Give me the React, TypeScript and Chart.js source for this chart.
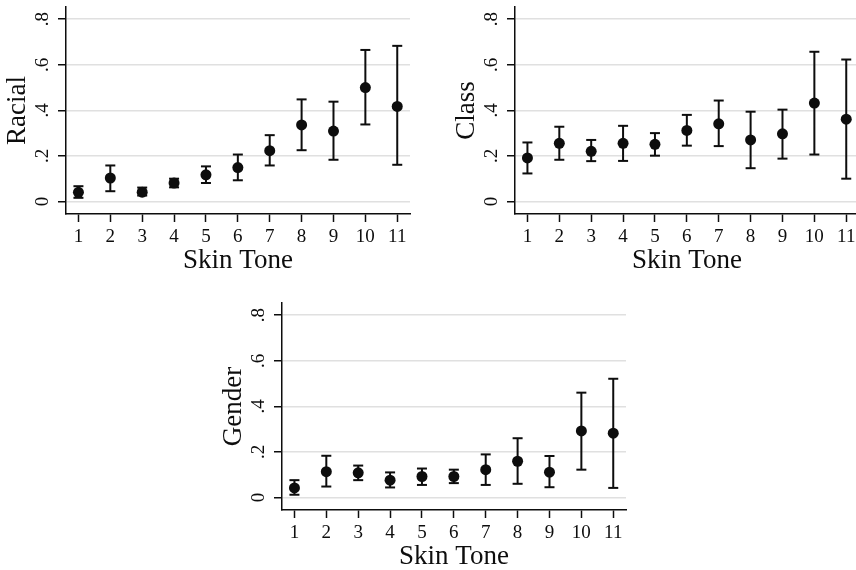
import React, { useEffect, useRef } from "react";
import { Chart, registerables } from "chart.js";

Chart.register(...registerables);

// ---------- data ----------
const SKIN_TONES = [1, 2, 3, 4, 5, 6, 7, 8, 9, 10, 11];
const Y_TICKS = [0, 0.2, 0.4, 0.6, 0.8];

const RACIAL = [0.04, 0.103, 0.041, 0.081, 0.117, 0.149, 0.223, 0.336, 0.309, 0.5, 0.417];
const RACIAL_LO = [0.016, 0.045, 0.026, 0.062, 0.081, 0.093, 0.158, 0.225, 0.183, 0.338, 0.161];
const RACIAL_HI = [0.067, 0.158, 0.061, 0.1, 0.154, 0.206, 0.291, 0.448, 0.438, 0.665, 0.683];

const CLASS = [0.191, 0.255, 0.22, 0.255, 0.251, 0.312, 0.341, 0.27, 0.297, 0.432, 0.361];
const CLASS_LO = [0.123, 0.183, 0.177, 0.178, 0.201, 0.245, 0.243, 0.146, 0.188, 0.206, 0.1];
const CLASS_HI = [0.259, 0.328, 0.27, 0.332, 0.3, 0.38, 0.443, 0.394, 0.403, 0.657, 0.623];

const GENDER = [0.042, 0.113, 0.108, 0.076, 0.092, 0.092, 0.122, 0.159, 0.111, 0.292, 0.282];
const GENDER_LO = [0.012, 0.048, 0.076, 0.044, 0.055, 0.063, 0.055, 0.06, 0.045, 0.122, 0.042];
const GENDER_HI = [0.076, 0.183, 0.14, 0.11, 0.127, 0.122, 0.189, 0.26, 0.182, 0.46, 0.521];

const X_TITLE = "Skin Tone";

// ---------- layout / style ----------
const CANVAS_W = 430;
const CANVAS_H = 290;
const PLOT_LEFT = 66;
const PLOT_TOP = 5;
const PLOT_RIGHT = 410;
const PLOT_BOTTOM = 214;
const FONT = "'Liberation Serif', 'Times New Roman', serif";
const INK = "#0d0d0d";

type PanelSpec = {
  title: string;
  left: number;
  top: number;
  mean: number[];
  lo: number[];
  hi: number[];
};

const PANELS: PanelSpec[] = [
  { title: "Racial", left: 0, top: 0, mean: RACIAL, lo: RACIAL_LO, hi: RACIAL_HI },
  { title: "Class", left: 449, top: 0, mean: CLASS, lo: CLASS_LO, hi: CLASS_HI },
  { title: "Gender", left: 216, top: 296, mean: GENDER, lo: GENDER_LO, hi: GENDER_HI },
];

const fmtY = (v: number) => (v === 0 ? "0" : "." + Math.round(v * 10));

function Panel({ spec }: { spec: PanelSpec }) {
  const ref = useRef<HTMLCanvasElement | null>(null);

  useEffect(() => {
    if (!ref.current) return;
    const pts = SKIN_TONES.map((x, i) => ({ x, y: spec.mean[i] }));
    const ciLine: { x: number; y: number | null }[] = [];
    const caps: { x: number; y: number }[] = [];
    SKIN_TONES.forEach((x, i) => {
      ciLine.push({ x, y: spec.lo[i] }, { x, y: spec.hi[i] }, { x, y: null });
      caps.push({ x, y: spec.lo[i] }, { x, y: spec.hi[i] });
    });

    const chart = new Chart(ref.current, {
      type: "scatter",
      data: {
        datasets: [
          {
            type: "line",
            data: ciLine as any,
            borderColor: INK,
            borderWidth: 2,
            pointRadius: 0,
            showLine: true,
            spanGaps: false,
            order: 3,
          } as any,
          {
            type: "scatter",
            data: caps,
            pointStyle: "line",
            pointRadius: 5,
            borderColor: INK,
            borderWidth: 2,
            order: 2,
          } as any,
          {
            type: "scatter",
            data: pts,
            pointStyle: "circle",
            pointRadius: 5.5,
            backgroundColor: INK,
            borderColor: INK,
            borderWidth: 0,
            order: 1,
          } as any,
        ],
      },
      options: {
        responsive: false,
        animation: false,
        events: [],
        layout: {
          padding: { left: 0, top: PLOT_TOP, right: CANVAS_W - PLOT_RIGHT, bottom: 0 },
        },
        plugins: { legend: { display: false }, tooltip: { enabled: false } },
        scales: {
          x: {
            type: "linear",
            min: 0.61,
            max: 11.4,
            afterBuildTicks: (s: any) => {
              s.ticks = SKIN_TONES.map((v) => ({ value: v }));
            },
            afterFit: (s: any) => {
              s.height = CANVAS_H - PLOT_BOTTOM;
              s.paddingLeft = 0;
              s.paddingRight = 0;
            },
            grid: {
              drawOnChartArea: false,
              drawTicks: true,
              tickLength: 8,
              tickColor: INK,
              tickWidth: 1.5,
            },
            border: { display: true, color: INK, width: 1.5 },
            ticks: {
              autoSkip: false,
              minRotation: 0,
              maxRotation: 0,
              padding: 4,
              color: INK,
              font: { family: FONT, size: 19 },
              callback: (v: any) => String(v),
            },
            title: {
              display: true,
              text: X_TITLE,
              color: INK,
              font: { family: FONT, size: 27 },
              padding: { top: 0, bottom: 13 },
            },
          },
          y: {
            type: "linear",
            min: -0.055,
            max: 0.8535,
            afterBuildTicks: (s: any) => {
              s.ticks = Y_TICKS.map((v) => ({ value: v }));
            },
            afterFit: (s: any) => {
              s.width = PLOT_LEFT;
              s.paddingTop = 0;
              s.paddingBottom = 0;
            },
            grid: {
              color: "#e0e0e0",
              lineWidth: 1.5,
              drawTicks: true,
              tickLength: 8,
              tickColor: INK,
              tickWidth: 1.5,
            },
            border: { display: true, color: INK, width: 1.5 },
            ticks: {
              minRotation: 90,
              maxRotation: 90,
              crossAlign: "center",
              padding: 8,
              color: INK,
              font: { family: FONT, size: 19 },
              callback: (v: any) => fmtY(Number(v)),
            },
            title: {
              display: true,
              text: spec.title,
              color: INK,
              font: { family: FONT, size: 27 },
              padding: { top: 2, bottom: 0 },
            },
          },
        },
      } as any,
    });
    return () => chart.destroy();
  }, [spec]);

  return (
    <canvas
      ref={ref}
      width={CANVAS_W}
      height={CANVAS_H}
      style={{
        position: "absolute",
        left: spec.left,
        top: spec.top,
        width: CANVAS_W,
        height: CANVAS_H,
      }}
    />
  );
}

export default function App() {
  return (
    <div
      style={{
        position: "absolute",
        left: 0,
        top: 0,
        width: 856,
        height: 570,
        overflow: "hidden",
        background: "#ffffff",
      }}
    >
      {PANELS.map((p) => (
        <Panel key={p.title} spec={p} />
      ))}
    </div>
  );
}
